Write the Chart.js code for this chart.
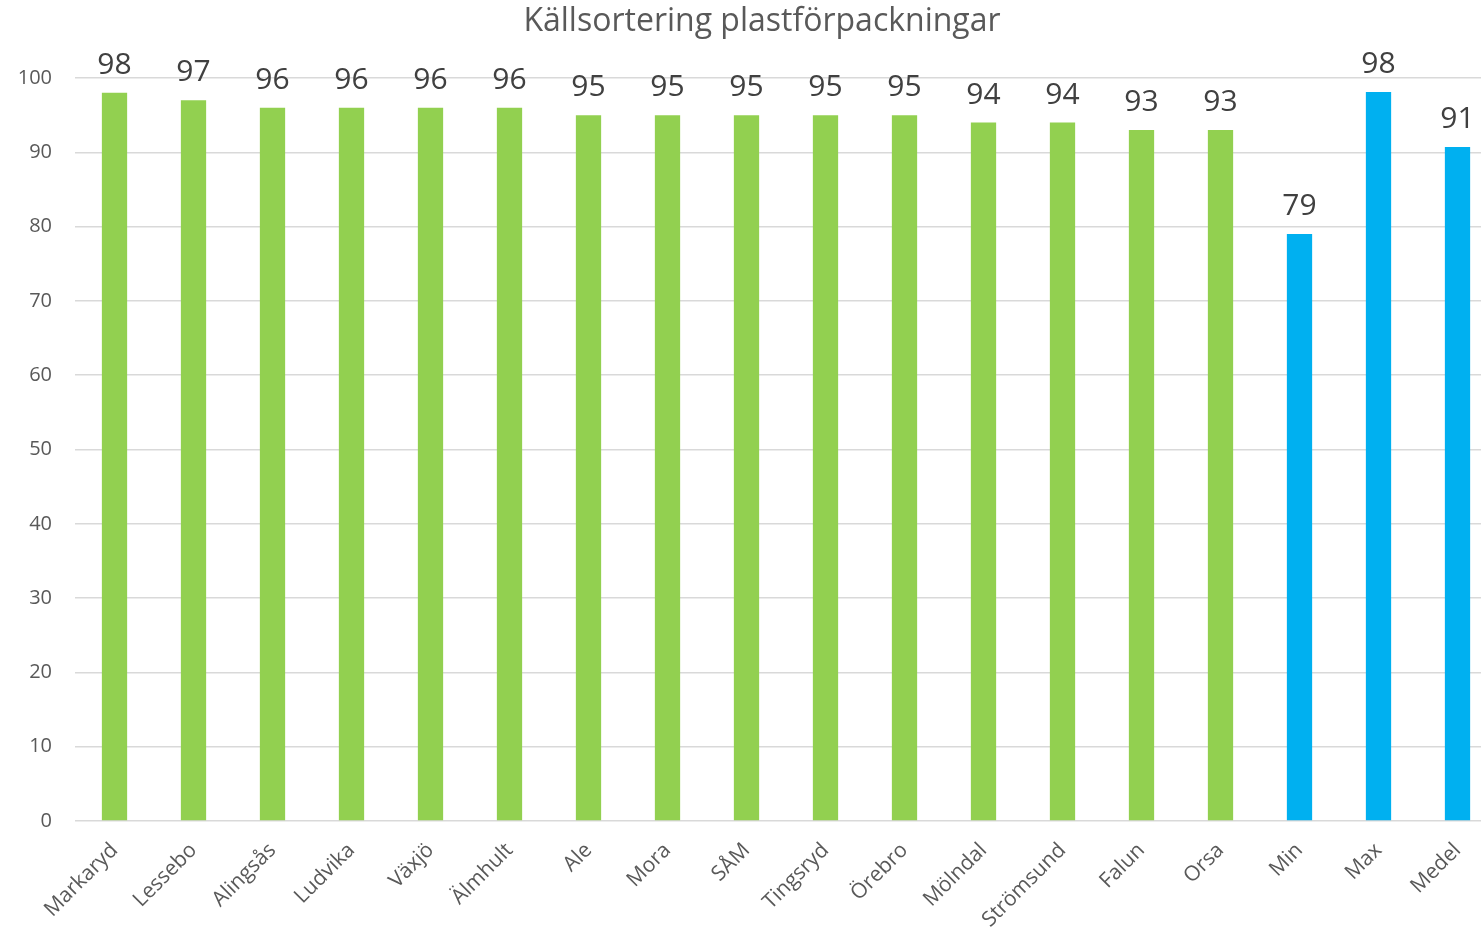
<!DOCTYPE html>
<html>
<head>
<meta charset="utf-8">
<script src="https://cdn.jsdelivr.net/npm/chart.js@4"></script>
<style>
    html, body { margin: 0; padding: 0; background: #fff; overflow: hidden; }
    canvas { display: block; }
</style>
</head>
<body>
<canvas id="CHART" width="1497" height="927"></canvas>
<script>
"use strict"

const title = "Källsortering plastförpackningar"
const labels = ["Markaryd", "Lessebo", "Alingsås", "Ludvika", "Växjö", "Älmhult", "Ale", "Mora", "SÅM",
    "Tingsryd", "Örebro", "Mölndal", "Strömsund", "Falun", "Orsa", "Min", "Max", "Medel"]
const values = [98, 97, 96, 96, 96, 96, 95, 95, 95, 95, 95, 94, 94, 93, 93, 79, 98.1, 90.7]
const summary = ["Min", "Max", "Medel"]
const yticks = [0, 10, 20, 30, 40, 50, 60, 70, 80, 90, 100]

const font = "'Open Sans', 'DejaVu Sans', sans-serif"

// value labels above each bar, plus the title (centred on the visible window, not the wider canvas)
const barLabels = {
    id: "barLabels",
    afterDatasetsDraw(chart) {
        const ctx = chart.ctx
        const meta = chart.getDatasetMeta(0)
        ctx.save()
        ctx.font = `30px ${font}`
        ctx.fillStyle = "#404040"
        ctx.textAlign = "center"
        ctx.textBaseline = "alphabetic"
        meta.data.forEach((bar, i) => {
            ctx.fillText(Math.round(values[i]), bar.x, bar.y - 19)
        })
        ctx.font = `32px ${font}`
        ctx.fillStyle = "#595959"
        ctx.textBaseline = "middle"
        ctx.fillText(title, 762, 22)
        ctx.restore()
    }
}

new Chart(CHART, {
    type: "bar",
    data: {
        labels: labels,
        datasets: [{
            data: values,
            backgroundColor: labels.map(l => summary.includes(l) ? "#00b0f0" : "#92d050"),
            barPercentage: 0.32,
            categoryPercentage: 1,
        }]
    },
    options: {
        animation: false,
        responsive: false,
        maintainAspectRatio: false,
        layout: { padding: { top: 78, left: 0, right: 0, bottom: 0 } },
        plugins: {
            legend: { display: false },
            tooltip: { enabled: false },
            title: { display: false },
        },
        scales: {
            x: {
                grid: { display: false, drawTicks: false },
                border: { display: false },
                afterFit: axis => { axis.height = 106 },
                ticks: {
                    color: "#595959",
                    font: { family: font, size: 21 },
                    minRotation: 45,
                    maxRotation: 45,
                    padding: 17,
                },
            },
            y: {
                min: 0,
                max: 100,
                afterBuildTicks: axis => axis.ticks = yticks.map(v => ({ value: v })),
                afterFit: axis => { axis.width = 75 },
                grid: { color: "#d9d9d9", lineWidth: 1.5, drawTicks: false },
                border: { display: false },
                ticks: {
                    color: "#595959",
                    font: { family: font, size: 20 },
                    padding: 23,
                },
            },
        },
    },
    plugins: [barLabels],
})
</script>
</body>
</html>
